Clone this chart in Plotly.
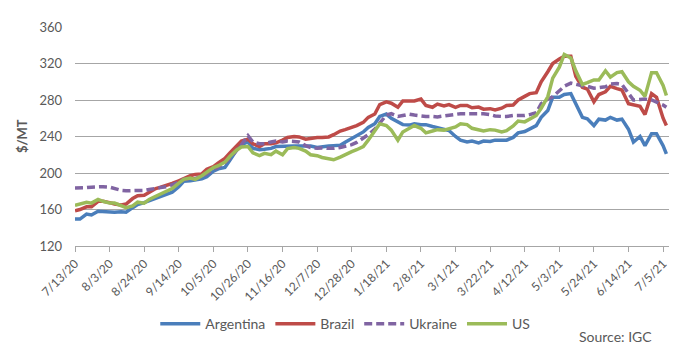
import datetime as dt
import plotly.graph_objects as go

# ---- data -------------------------------------------------------------
start = dt.date(2020, 7, 13)
dates = []
for w in range(51):
    dates.append(start + dt.timedelta(days=7 * w))
    dates.append(start + dt.timedelta(days=7 * w + 3))
dates.append(dt.date(2021, 7, 5))
dates.append(dt.date(2021, 7, 7))

argentina = [
    149.5, 149.5, 155, 154, 158, 157.5, 157.5, 157, 157.5, 157,
    162, 165.5, 167.5, 169.5, 172, 174, 176.5, 179, 185, 191,
    191.6, 192.5, 193.5, 196, 202, 204.5, 206, 214, 225, 231,
    234, 227, 225.5, 226, 227, 229, 229.5, 229, 229.5, 229.5,
    230, 229.5, 228, 229, 229.5, 230, 230.5, 233.7, 238, 241.5,
    245, 250, 254, 262, 264.6, 260, 255.4, 253, 252.5, 254,
    253, 253, 251, 249.5, 248, 246.5, 240, 236, 234, 235,
    233, 235, 234.5, 236, 236, 236, 239, 244, 245.5, 248,
    252, 261, 268.5, 283, 283, 286, 287, 276, 261, 259.5,
    252, 259, 258, 261, 258, 259, 248, 234, 240, 230,
    243, 243, 230, 221,
]
brazil = [
    158.5, 160, 163, 163, 169, 169, 167.5, 166, 165, 166,
    172, 175, 175.5, 179, 183, 184.5, 186.5, 188.5, 191.5, 194,
    197, 198.5, 199, 204, 207, 211, 216, 222, 230, 235,
    237, 232, 229, 232, 232, 233, 236, 239, 240, 239.5,
    237, 238, 239, 239, 239.5, 242, 246, 247.5, 250, 252,
    255.5, 261, 264.6, 275, 278, 276.5, 272, 279, 279, 279,
    281, 274, 272, 275.5, 273.5, 275, 272, 274, 274, 271.5,
    272.3, 270, 270.5, 269, 271, 274, 274.5, 280, 284, 287,
    288, 300, 311, 320, 325, 328, 328, 306, 294, 292,
    278, 286, 289, 295, 292.5, 291, 276, 274.5, 273, 264,
    287, 283, 260, 252,
]
ukraine = [
    183.5, 183.5, 184, 184.5, 185, 185, 184.5, 183, 181, 180.5,
    180.5, 181, 181, 182, 183.5, 184, 185, 187, 190, 193,
    194, 194, 196, 199, 204, 207, 211, 216, 224, 231,
    241, 234, 232, 232, 234, 235, 234, 235, 234.5, 234,
    230, 228, 227, 227.5, 227, 227, 228, 229, 231, 233.5,
    238, 242, 248, 255, 263.5, 265, 262, 263, 264.5, 263.5,
    262.5, 262, 262, 261.5, 262.5, 263.5, 264.5, 265, 265, 265,
    265, 265, 264, 262.5, 262, 262, 263, 263, 263, 264,
    266, 276, 281, 283.5, 290, 295, 298.5, 297, 295.5, 295,
    293, 293.5, 294.5, 297.5, 298, 297, 288, 280, 280.5, 281,
    280, 278, 274.5, 272,
]
us = [
    164.5, 166, 168, 167, 171, 169, 167, 167, 164, 162,
    164, 168, 167, 171, 174.5, 177, 179.5, 183, 189, 193,
    194.5, 193, 197, 201, 206, 208, 212, 218, 225, 228.5,
    229, 222, 219, 221.5, 220, 224, 220, 226.7, 228, 227,
    224, 220, 219, 217, 215.5, 214.5, 217.5, 220.5, 223.5, 225.5,
    229, 236, 246, 254, 252, 247, 236, 245, 249, 252,
    249, 244, 246, 247.5, 247, 248.5, 250.5, 254, 253, 249,
    247.5, 246, 247.5, 247, 245, 246.5, 251.5, 257, 256, 259,
    263, 271, 283.5, 304, 316, 330, 326, 312, 297, 299,
    302, 302, 312, 305, 310, 311, 300, 295, 290.7, 284,
    310, 310, 296, 285,
]

series_names = ["Argentina", "Brazil", "Ukraine", "US"]
tick_dates = [start + dt.timedelta(days=21 * k) for k in range(18)]
tick_labels = ["7/13/20", "8/3/20", "8/24/20", "9/14/20", "10/5/20", "10/26/20",
               "11/16/20", "12/7/20", "12/28/20", "1/18/21", "2/8/21", "3/1/21",
               "3/22/21", "4/12/21", "5/3/21", "5/24/21", "6/14/21", "7/5/21"]
y_ticks = [120, 160, 200, 240, 280, 320, 360]

# ---- figure -----------------------------------------------------------
colors = ["#4A7EBB", "#BE4B48", "#8064A2", "#9BBB59"]
dashes = ["solid", "solid", "8px,4px", "solid"]
values = [argentina, brazil, ukraine, us]

FONT = "Lato, 'Open Sans', sans-serif"
GREY = "#595959"

fig = go.Figure()
for name, vals, c, d in zip(series_names, values, colors, dashes):
    fig.add_trace(go.Scatter(
        x=dates, y=vals, name=name, mode="lines",
        line=dict(color=c, width=3.5, dash=d),
    ))

fig.update_layout(
    width=680, height=356, autosize=False,
    margin=dict(l=67, r=19, t=11, b=118),
    paper_bgcolor="white", plot_bgcolor="white",
    font=dict(family=FONT, size=12, color=GREY),
    showlegend=True,
    legend=dict(orientation="h", x=0.455, xanchor="center", y=-0.357,
                yanchor="middle", font=dict(size=14, color=GREY),
                itemwidth=40,
                bgcolor="rgba(0,0,0,0)"),
    xaxis=dict(
        type="date",
        range=["2020-07-13", "2021-07-08 14:00"],
        tickmode="array", tickvals=tick_dates, ticktext=tick_labels,
        tickangle=-45, ticks="outside", ticklen=5, tickcolor="#A6A6A6",
        showline=True, linecolor="#A6A6A6", linewidth=1,
        showgrid=False, zeroline=False,
        tickfont=dict(size=12, color=GREY),
    ),
    yaxis=dict(
        range=[120, 360], tickmode="array", tickvals=y_ticks,
        showgrid=True, gridcolor="#A6A6A6", gridwidth=1,
        zeroline=False, showline=False, ticks="",
        ticklabelstandoff=12,
        tickfont=dict(size=13, color=GREY),
    ),
    annotations=[
        dict(text="<b>$/MT</b>", textangle=-90, xref="paper", yref="paper",
             x=-0.09, y=0.5, xanchor="center", yanchor="middle",
             showarrow=False, font=dict(size=13, color=GREY)),
        dict(text="Source: IGC", xref="paper", yref="paper",
             x=0.975, y=-0.413, xanchor="right", yanchor="middle",
             showarrow=False, font=dict(size=14, color=GREY)),
    ],
)

fig.write_html("out.html")
